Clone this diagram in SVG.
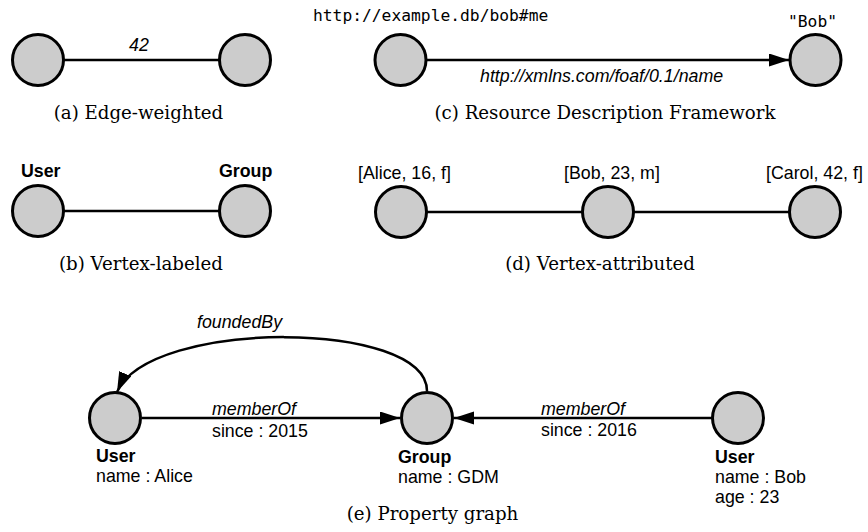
<svg xmlns="http://www.w3.org/2000/svg" width="868" height="532" viewBox="0 0 868 532">
  <style>
    .bg { fill: #ffffff; }
    .node { fill: #cccccc; stroke: #000000; stroke-width: 3; }
    .edge { fill: none; stroke: #000000; stroke-width: 2.5; }
    .lbl { font-family: "Liberation Sans", Arial, sans-serif; font-size: 17.8px; fill: #000000; }
    .it { font-style: italic; }
    .bd { font-weight: bold; }
    .mono { font-family: "DejaVu Sans Mono", "Liberation Mono", monospace; font-size: 16.3px; fill: #000000; }
    .cap { font-family: "DejaVu Serif", "Liberation Serif", serif; font-size: 18.2px; fill: #000000; text-anchor: middle; }
  </style>
  <defs>
    <marker id="arrow" markerUnits="userSpaceOnUse" markerWidth="21" markerHeight="14" refX="20" refY="6.5" orient="auto">
      <path d="M0,0 L20,6.5 L0,13 Z" fill="#000000"/>
    </marker>
  </defs>
  <rect class="bg" x="0" y="0" width="868" height="532"/>

  <!-- connectors -->
  <g id="connectors">
    <!-- (a) -->
    <line class="edge" x1="64" y1="60" x2="219" y2="60"/>
    <!-- (b) -->
    <line class="edge" x1="64" y1="211" x2="219" y2="211"/>
    <!-- (c) -->
    <line class="edge" x1="427" y1="60" x2="789" y2="60" marker-end="url(#arrow)"/>
    <!-- (d) -->
    <line class="edge" x1="427" y1="212" x2="582" y2="212"/>
    <line class="edge" x1="634" y1="212" x2="789" y2="212"/>
    <!-- (e) -->
    <line class="edge" x1="142" y1="418" x2="400" y2="418" marker-end="url(#arrow)"/>
    <line class="edge" x1="712" y1="418" x2="454" y2="418" marker-end="url(#arrow)"/>
    <path class="edge" d="M427,391 C427,320 150,318 117,392" marker-end="url(#arrow)"/>
  </g>

  <!-- connector labels -->
  <g id="edge-labels">
    <text class="lbl it" x="139" y="51" text-anchor="middle">42</text>
    <text class="lbl it" x="480" y="82">http://xmlns.com/foaf/0.1/name</text>
    <text class="lbl it" x="197" y="328">foundedBy</text>
    <text class="lbl it" x="212" y="415">memberOf</text>
    <text class="lbl" x="212" y="437">since : 2015</text>
    <text class="lbl it" x="541" y="415">memberOf</text>
    <text class="lbl" x="541" y="436">since : 2016</text>
  </g>

  <!-- (a) Edge-weighted -->
  <g id="a-n1"><circle class="node" cx="38" cy="60" r="25.5"/></g>
  <g id="a-n2"><circle class="node" cx="245" cy="60" r="25.5"/></g>
  <text class="cap" x="138.5" y="119">(a) Edge-weighted</text>

  <!-- (b) Vertex-labeled -->
  <g id="b-user">
    <circle class="node" cx="38" cy="211" r="25.5"/>
    <text class="lbl bd" x="21" y="177">User</text>
  </g>
  <g id="b-group">
    <circle class="node" cx="245" cy="211" r="25.5"/>
    <text class="lbl bd" x="219" y="177">Group</text>
  </g>
  <text class="cap" x="141" y="270">(b) Vertex-labeled</text>

  <!-- (c) Resource Description Framework -->
  <g id="c-subject">
    <circle class="node" cx="400.5" cy="60" r="25.5"/>
    <text class="mono" x="313" y="21">http://example.db/bob#me</text>
  </g>
  <g id="c-object">
    <circle class="node" cx="815.5" cy="60" r="25.5"/>
    <text class="mono" x="788" y="27">"Bob"</text>
  </g>
  <text class="cap" x="605" y="119">(c) Resource Description Framework</text>

  <!-- (d) Vertex-attributed -->
  <g id="d-alice">
    <circle class="node" cx="401" cy="212" r="25.5"/>
    <text class="lbl" x="358" y="179">[Alice, 16, f]</text>
  </g>
  <g id="d-bob">
    <circle class="node" cx="608" cy="212" r="25.5"/>
    <text class="lbl" x="564" y="179">[Bob, 23, m]</text>
  </g>
  <g id="d-carol">
    <circle class="node" cx="815" cy="212" r="25.5"/>
    <text class="lbl" x="766" y="179">[Carol, 42, f]</text>
  </g>
  <text class="cap" x="600" y="270">(d) Vertex-attributed</text>

  <!-- (e) Property graph -->
  <g id="e-alice">
    <circle class="node" cx="115" cy="418" r="25.5"/>
    <text class="lbl bd" x="96" y="462">User</text>
    <text class="lbl" x="96" y="482">name : Alice</text>
  </g>
  <g id="e-group">
    <circle class="node" cx="427" cy="418" r="25.5"/>
    <text class="lbl bd" x="398" y="463">Group</text>
    <text class="lbl" x="398" y="483">name : GDM</text>
  </g>
  <g id="e-bob">
    <circle class="node" cx="738" cy="418" r="25.5"/>
    <text class="lbl bd" x="715" y="463">User</text>
    <text class="lbl" x="715" y="483">name : Bob</text>
    <text class="lbl" x="715" y="503">age : 23</text>
  </g>
  <text class="cap" x="432.5" y="520">(e) Property graph</text>
</svg>
